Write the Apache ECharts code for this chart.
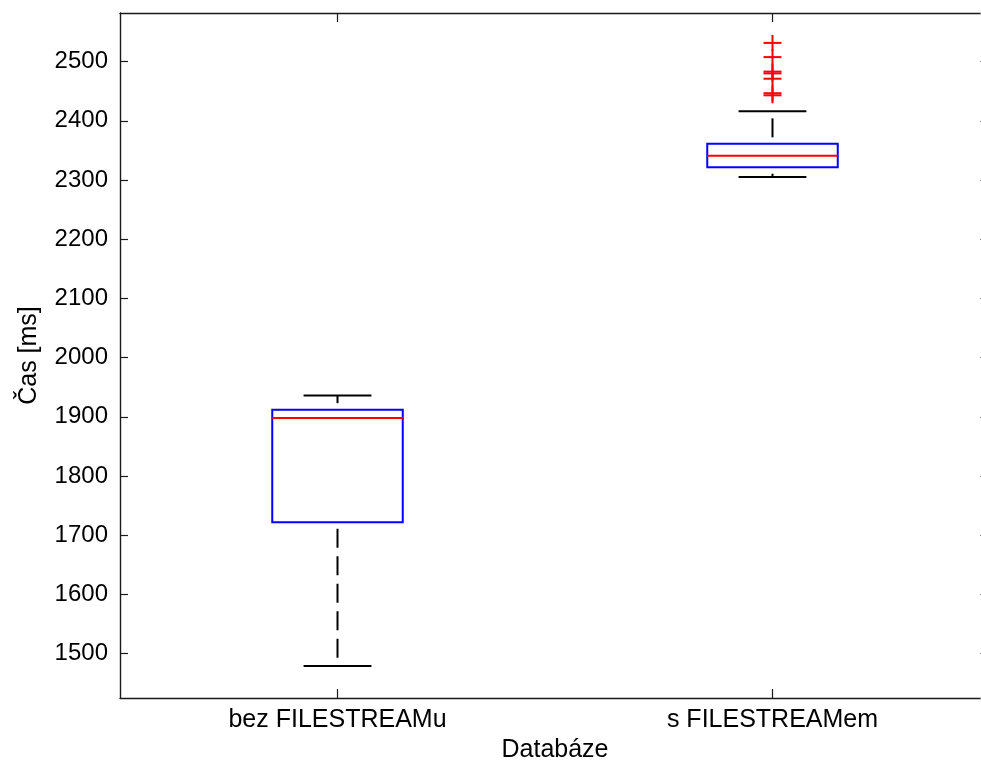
<!DOCTYPE html>
<html>
<head>
<meta charset="utf-8">
<script src="https://cdn.jsdelivr.net/npm/echarts@6/dist/echarts.min.js"></script>
<style>
  html, body { margin: 0; padding: 0; background: #fff; }
  #chart { width: 981px; height: 765px; }
</style>
</head>
<body>
<div id="chart"></div>
<script>
// Groups on the x axis
const categories = ['bez FILESTREAMu', 's FILESTREAMem'];
// Box statistics per group: lower whisker, Q1, median, Q3, upper whisker (ms)
const lowerWhisker = [1479, 2305];
const quartile1    = [1722, 2321.5];
const medians      = [1898, 2341];
const quartile3    = [1912, 2361];
const upperWhisker = [1936, 2416];
// Outliers of the second group (ms)
const outlierGroup  = [1, 1, 1, 1, 1, 1, 1];
const outlierValues = [2531.5, 2507.5, 2483, 2480, 2471, 2446.5, 2443];
// Axis texts
const xAxisTitle = 'Databáze';
const yAxisTitle = 'Čas [ms]';

const boxData = categories.map((c, i) => [i, lowerWhisker[i], quartile1[i], medians[i], quartile3[i], upperWhisker[i]]);
const outlierData = outlierValues.map((v, i) => [outlierGroup[i], v]);

const FONT = 'Liberation Sans, Arial, sans-serif';
const AXIS_COLOR = '#1a1a1a';
const LW = 2;

function renderBox(params, api) {
  const idx = api.value(0);
  const band = api.size([1, 0])[0];
  const half = band * 0.15;
  const capHalf = band * 0.078;
  const pLow = api.coord([idx, api.value(1)]);
  const pQ1 = api.coord([idx, api.value(2)]);
  const pMed = api.coord([idx, api.value(3)]);
  const pQ3 = api.coord([idx, api.value(4)]);
  const pHigh = api.coord([idx, api.value(5)]);
  const cx = pMed[0];
  const whiskerStyle = { stroke: '#000', lineWidth: LW, lineDash: [19, 8.5], lineDashOffset: 21 };
  const solid = { stroke: '#000', lineWidth: LW };
  return {
    type: 'group',
    children: [
      { type: 'line', shape: { x1: cx, y1: pQ1[1], x2: cx, y2: pLow[1] }, style: whiskerStyle },
      { type: 'line', shape: { x1: cx, y1: pQ3[1], x2: cx, y2: pHigh[1] }, style: whiskerStyle },
      { type: 'line', shape: { x1: cx - capHalf, y1: pLow[1], x2: cx + capHalf, y2: pLow[1] }, style: solid },
      { type: 'line', shape: { x1: cx - capHalf, y1: pHigh[1], x2: cx + capHalf, y2: pHigh[1] }, style: solid },
      { type: 'rect', shape: { x: cx - half, y: pQ3[1], width: half * 2, height: pQ1[1] - pQ3[1] },
        style: { fill: 'none', stroke: '#0000ff', lineWidth: LW } },
      { type: 'line', shape: { x1: cx - half, y1: pMed[1], x2: cx + half, y2: pMed[1] },
        style: { stroke: '#ff0000', lineWidth: LW } }
    ]
  };
}

function renderPlus(params, api) {
  const p = api.coord([api.value(0), api.value(1)]);
  const st = { stroke: '#ff0000', lineWidth: LW };
  return {
    type: 'group',
    children: [
      { type: 'line', shape: { x1: p[0] - 9, y1: p[1], x2: p[0] + 9, y2: p[1] }, style: st },
      { type: 'line', shape: { x1: p[0], y1: p[1] - 8, x2: p[0], y2: p[1] + 8 }, style: st }
    ]
  };
}

const yCommon = {
  type: 'value',
  min: 1425,
  max: 2582,
  splitNumber: 11,
  splitLine: { show: false },
  axisLine: { show: true, lineStyle: { color: AXIS_COLOR, width: 1.4 } },
  axisTick: { show: true, inside: true, length: 8, lineStyle: { color: AXIS_COLOR, width: 1.2 } }
};

const chart = echarts.init(document.getElementById('chart'), null, { renderer: 'canvas' });
chart.setOption({
  backgroundColor: '#fff',
  animation: false,
  grid: { left: 120, right: -9, top: 13, bottom: 67, containLabel: false, outerBoundsMode: 'none' },
  xAxis: [
    {
      type: 'category',
      data: categories,
      position: 'bottom',
      boundaryGap: true,
      name: xAxisTitle,
      nameLocation: 'middle',
      nameGap: 40,
      nameTextStyle: { fontFamily: FONT, fontSize: 25, color: '#000' },
      axisLine: { show: true, onZero: false, lineStyle: { color: AXIS_COLOR, width: 1.4 } },
      axisTick: { show: true, inside: true, length: 9, alignWithLabel: true, lineStyle: { color: AXIS_COLOR, width: 1.2 } },
      axisLabel: { fontFamily: FONT, fontSize: 25, color: '#000', margin: 10 },
      splitLine: { show: false }
    },
    {
      type: 'category',
      data: categories,
      position: 'top',
      boundaryGap: true,
      axisLine: { show: true, onZero: false, lineStyle: { color: AXIS_COLOR, width: 1.4 } },
      axisTick: { show: true, inside: true, length: 9, alignWithLabel: true, lineStyle: { color: AXIS_COLOR, width: 1.2 } },
      axisLabel: { show: false },
      splitLine: { show: false }
    }
  ],
  yAxis: [
    Object.assign({}, yCommon, {
      position: 'left',
      name: yAxisTitle,
      nameLocation: 'middle',
      nameRotate: 90,
      nameGap: 78,
      nameTextStyle: { fontFamily: FONT, fontSize: 25, color: '#000' },
      axisLabel: {
        fontFamily: FONT, fontSize: 24, color: '#000', margin: 12,
        showMinLabel: false, showMaxLabel: false,
        formatter: v => String(v)
      }
    }),
    Object.assign({}, yCommon, {
      position: 'right',
      axisLine: { show: false },
      axisTick: { show: true, inside: true, length: 10, lineStyle: { color: '#888', width: 1.2 } },
      axisLabel: { show: false }
    })
  ],
  series: [
    {
      type: 'custom',
      xAxisIndex: 0,
      yAxisIndex: 0,
      renderItem: renderBox,
      encode: { x: 0, y: [1, 2, 3, 4, 5] },
      data: boxData,
      clip: false
    },
    {
      type: 'custom',
      xAxisIndex: 0,
      yAxisIndex: 0,
      renderItem: renderPlus,
      encode: { x: 0, y: 1 },
      data: outlierData,
      clip: false
    }
  ]
});
</script>
</body>
</html>
